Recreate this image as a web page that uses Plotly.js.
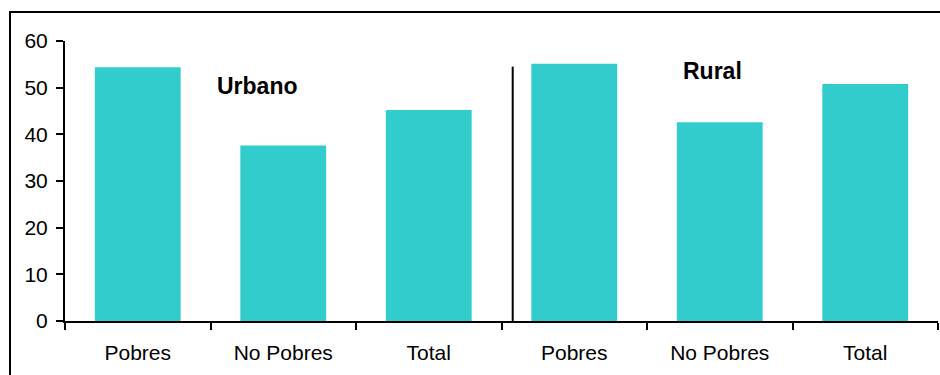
<!DOCTYPE html>
<html>
<head>
<meta charset="utf-8">
<script src="https://cdn.plot.ly/plotly-3.0.1.min.js"></script>
<style>
  html, body { margin: 0; padding: 0; background: #fff; }
  #chart { width: 940px; height: 375px; }
</style>
</head>
<body>
<div id="chart"></div>
<script>
// Share (%) by household group, urban vs rural areas
const categories = ["Pobres", "No Pobres", "Total", "Pobres", "No Pobres", "Total"];
const areaLabels = ["Urbano", "Rural"];
const urbanValues = [54.4, 37.6, 45.2];
const ruralValues = [55.1, 42.6, 50.8];
const yTicks = [0, 10, 20, 30, 40, 50, 60];

const values = urbanValues.concat(ruralValues);
const positions = categories.map((_, i) => i);

const font = { family: "Liberation Sans, Arial, sans-serif", size: 21, color: "#000" };

const trace = {
  type: "bar",
  x: positions,
  y: values,
  marker: { color: "#33CCCC", line: { width: 0 } },
  width: 0.59,
  hoverinfo: "skip"
};

const layout = {
  width: 940,
  height: 375,
  margin: { l: 65, r: 2, t: 41, b: 54 },
  paper_bgcolor: "#fff",
  plot_bgcolor: "#fff",
  showlegend: false,
  font: font,
  xaxis: {
    type: "linear",
    range: [-0.5, 5.5],
    tickmode: "array",
    tickvals: positions,
    ticktext: categories,
    ticks: "",
    showgrid: false,
    zeroline: false,
    showline: true,
    linecolor: "#000",
    linewidth: 2,
    tickfont: font,
    ticklabelstandoff: 12,
    minor: {
      tickmode: "array",
      tickvals: [-0.5, 0.5, 1.5, 2.5, 3.5, 4.5, 5.5],
      ticks: "outside",
      ticklen: 7,
      tickwidth: 2,
      tickcolor: "#000",
      showgrid: false
    },
    fixedrange: true
  },
  yaxis: {
    range: [0, 60],
    tickmode: "array",
    tickvals: yTicks,
    ticks: "outside",
    ticklen: 7,
    tickwidth: 2,
    tickcolor: "#000",
    showgrid: false,
    zeroline: false,
    showline: true,
    linecolor: "#000",
    linewidth: 2,
    tickfont: font,
    ticklabelstandoff: 4,
    fixedrange: true
  },
  shapes: [
    // divider between the urban and rural groups
    { type: "line", xref: "x", yref: "y", x0: 2.577, x1: 2.577, y0: 0, y1: 54.5,
      line: { color: "#000", width: 2 } },
    // outer frame
    { type: "rect", xref: "paper", yref: "paper", x0: -0.0630, x1: 1.2, y0: -0.5, y1: 1.1036,
      line: { color: "#000", width: 2 }, fillcolor: "rgba(0,0,0,0)", layer: "above" }
  ],
  annotations: [
    { x: 0.826, y: 50.4, xref: "x", yref: "y", text: "<b>" + areaLabels[0] + "</b>",
      showarrow: false, font: { family: font.family, size: 23, color: "#000" } },
    { x: 3.95, y: 53.6, xref: "x", yref: "y", text: "<b>" + areaLabels[1] + "</b>",
      showarrow: false, font: { family: font.family, size: 23, color: "#000" } }
  ]
};

Plotly.newPlot("chart", [trace], layout, { displayModeBar: false, staticPlot: true });
</script>
</body>
</html>
